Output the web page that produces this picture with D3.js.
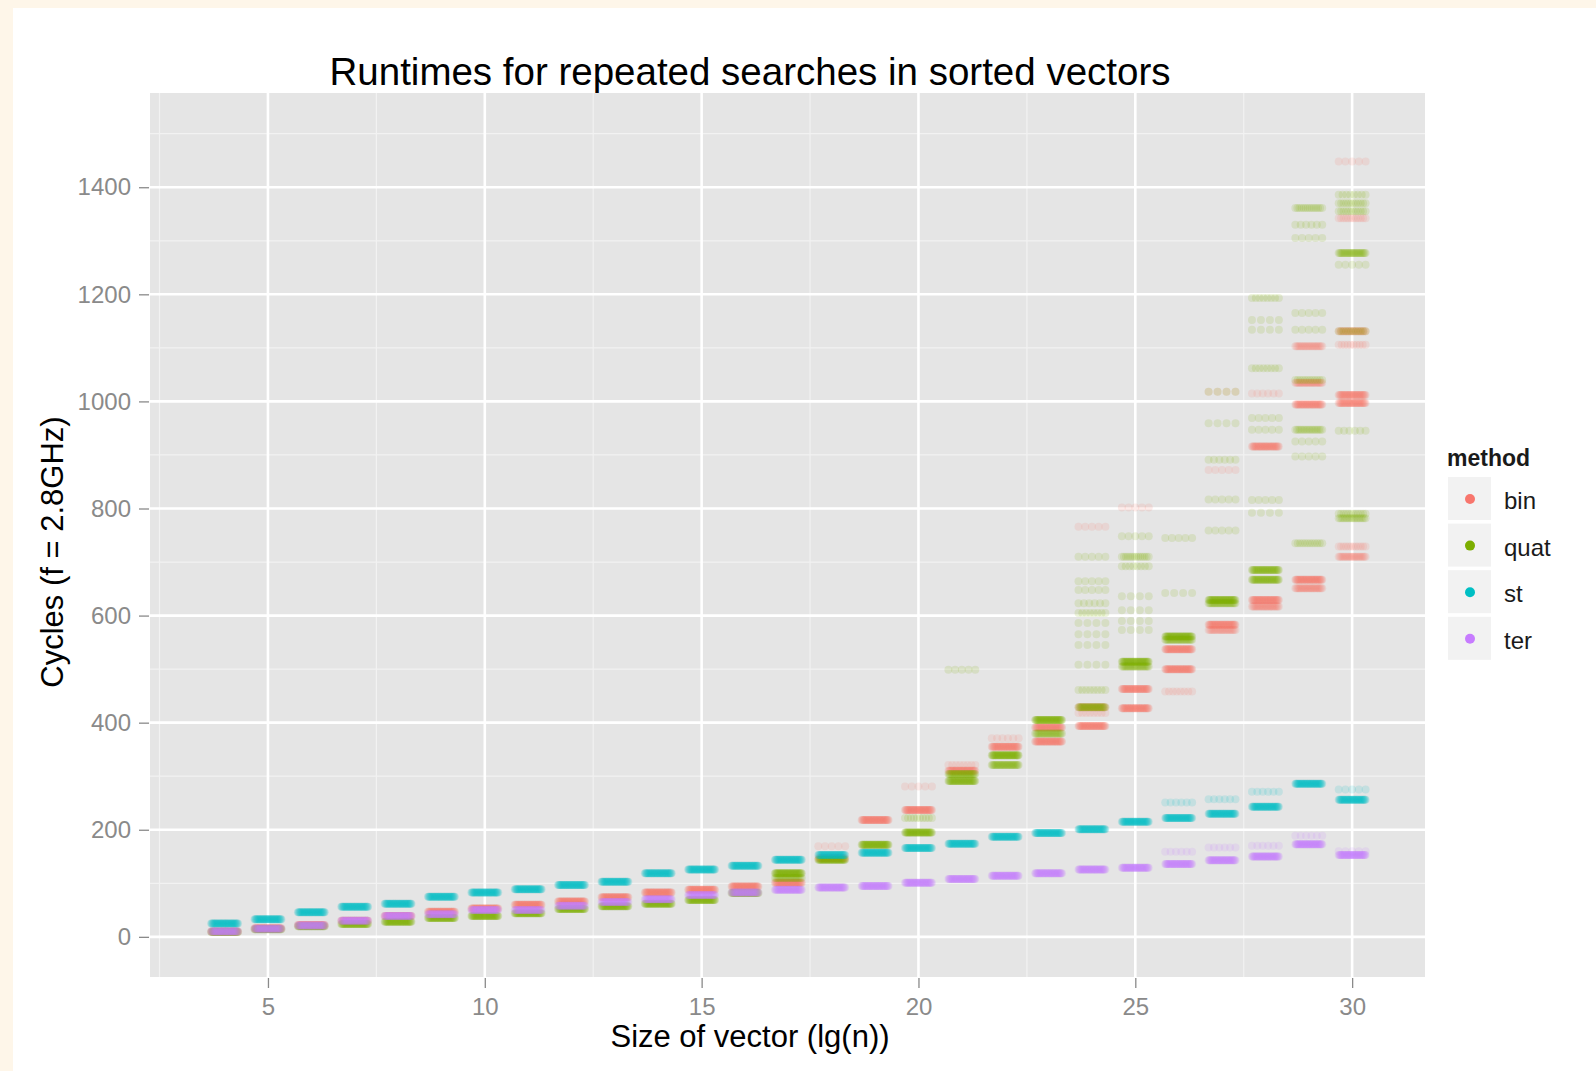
<!DOCTYPE html>
<html>
<head>
<meta charset="utf-8">
<script src="https://cdn.jsdelivr.net/npm/d3@7"></script>
<style>
  html, body { margin: 0; padding: 0; background: #fef6e9; }
  svg { display: block; }
  text { font-family: "Liberation Sans", Arial, Helvetica, sans-serif; }
</style>
</head>
<body>
<svg id="chart" width="1596" height="1071"></svg>
<script>
// ---------------- DATA ----------------
const xValues = [4,5,6,7,8,9,10,11,12,13,14,15,16,17,18,19,20,21,22,23,24,25,26,27,28,29,30];
const methods = ["bin", "quat", "st", "ter"];
const methodColors = ["#F8766D", "#7CAE00", "#00BFC4", "#C77CFF"];
const xTicks = [5, 10, 15, 20, 25, 30];
const yTicks = [0, 200, 400, 600, 800, 1000, 1200, 1400];
const title = "Runtimes for repeated searches in sorted vectors";
const xTitle = "Size of vector (lg(n))";
const yTitle = "Cycles (f = 2.8GHz)";
const legendTitle = "method";

// each entry: clusters for one x value, [cycles, number of runs]
const binRuns = [
  [[10,50]], [[16,50]], [[22,50]], [[30,50]], [[39,50]], [[47,50]], [[53,50]],
  [[60,50]], [[66,50]], [[74,50]], [[83,50]], [[88,50]], [[94,50]], [[101,50]],
  [[147,40],[169,5]], [[218,50]], [[237,50],[281,5]], [[321,8],[310,45]],
  [[371,6],[355,45]], [[391,45],[365,45]], [[394,45],[429,30],[418,8],[766,5]],
  [[463,45],[427,45],[802,5]], [[537,45],[500,45],[458,8]],
  [[583,45],[573,25],[872,5],[1018,4]],
  [[629,45],[617,30],[916,40],[1015,6]],
  [[667,45],[651,30],[1103,25],[1035,30],[994,40]],
  [[729,12],[710,25],[1131,30],[1106,10],[1012,40],[997,40],[1342,12],[1448,5]]
];
const quatRuns = [
  [[9,50]], [[14,50]], [[20,50]], [[24,50]], [[28,50]], [[35,50]], [[39,50]],
  [[44,50]], [[52,50]], [[57,50]], [[62,50]], [[69,50]], [[82,50]],
  [[119,50],[110,25]], [[144,50]], [[172,50]], [[195,50],[222,10]],
  [[304,40],[291,45],[499,5]], [[339,50],[321,35]], [[405,50],[380,30]],
  [[429,35],[461,8],[508,4],[545,4],[565,4],[586,4],[605,8],[623,6],[648,5],[664,5],[710,5]],
  [[514,45],[505,30],[573,4],[590,4],[610,4],[636,4],[692,8],[710,14],[748,5]],
  [[561,45],[555,30],[642,4],[745,5]],
  [[629,45],[623,30],[759,5],[817,5],[891,6],[959,4],[1018,4]],
  [[685,40],[667,40],[792,4],[816,5],[947,5],[969,5],[1062,8],[1134,4],[1152,4],[1193,8]],
  [[735,12],[897,5],[925,5],[947,18],[1040,12],[1134,5],[1165,5],[1305,5],[1330,6],[1361,14]],
  [[782,18],[790,12],[945,6],[1131,12],[1255,5],[1277,30],[1355,12],[1370,12],[1386,8]]
];
const stRuns = [
  [[25,50]], [[33,50]], [[46,50]], [[56,50]], [[62,50]], [[75,50]], [[83,50]],
  [[89,50]], [[97,50]], [[103,50]], [[119,50]], [[126,50]], [[133,50]], [[144,50]],
  [[153,50]], [[157,50]], [[166,50]], [[174,50]], [[187,50]], [[194,50]],
  [[201,50]], [[215,50]], [[222,50],[251,6]], [[230,50],[257,6]],
  [[243,50],[271,6]], [[286,50]], [[256,50],[275,5]]
];
const terRuns = [
  [[10,50]], [[15,50]], [[21,50]], [[30,50]], [[39,50]], [[42,50]], [[50,50]],
  [[50,50]], [[58,50]], [[65,50]], [[70,50]], [[78,50]], [[83,50]], [[88,50]],
  [[92,50]], [[95,50]], [[101,50]], [[108,50]], [[114,50]], [[119,50]],
  [[126,50]], [[129,50]], [[136,50],[159,6]], [[143,50],[167,6]],
  [[150,50],[170,6]], [[173,50],[189,6]], [[153,50],[160,5]]
];
const runsByMethod = [binRuns, quatRuns, stRuns, terRuns];

// ---------------- LAYOUT ----------------
const svg = d3.select("#chart");
const panel = { left: 150, right: 1425, top: 93, bottom: 977 };

svg.append("rect").attr("x", 13).attr("y", 8).attr("width", 1596 - 13).attr("height", 1071 - 8)
  .attr("fill", "#ffffff");

const x = d3.scaleLinear().domain([2.28, 31.68]).range([panel.left, panel.right]);
const y = d3.scaleLinear().domain([-75, 1576]).range([panel.bottom, panel.top]);

svg.append("rect").attr("x", panel.left).attr("y", panel.top)
  .attr("width", panel.right - panel.left).attr("height", panel.bottom - panel.top)
  .attr("fill", "#e5e5e5");

// minor grid
const xMinor = [2.5, 7.5, 12.5, 17.5, 22.5, 27.5];
const yMinor = [100, 300, 500, 700, 900, 1100, 1300, 1500];
const grid = svg.append("g");
grid.selectAll(".xm").data(xMinor).join("line")
  .attr("x1", d => x(d)).attr("x2", d => x(d)).attr("y1", panel.top).attr("y2", panel.bottom)
  .attr("stroke", "#f2f2f2").attr("stroke-width", 1.2);
grid.selectAll(".ym").data(yMinor).join("line")
  .attr("y1", d => y(d)).attr("y2", d => y(d)).attr("x1", panel.left).attr("x2", panel.right)
  .attr("stroke", "#f2f2f2").attr("stroke-width", 1.2);
grid.selectAll(".xM").data(xTicks).join("line")
  .attr("x1", d => x(d)).attr("x2", d => x(d)).attr("y1", panel.top).attr("y2", panel.bottom)
  .attr("stroke", "#ffffff").attr("stroke-width", 2.6);
grid.selectAll(".yM").data(yTicks).join("line")
  .attr("y1", d => y(d)).attr("y2", d => y(d)).attr("x1", panel.left).attr("x2", panel.right)
  .attr("stroke", "#ffffff").attr("stroke-width", 2.6);

// points: each run of a cluster spread across the jitter band of its x value
const pts = [];
runsByMethod.forEach((runs, m) => {
  runs.forEach((clusters, i) => {
    clusters.forEach(([v, n]) => {
      for (let k = 0; k < n; k++) {
        const off = n === 1 ? 0 : -0.31 + 0.62 * k / (n - 1);
        pts.push({ m, xv: xValues[i] + off, v });
      }
    });
  });
});
svg.append("g").selectAll("circle").data(pts).join("circle")
  .attr("cx", d => x(d.xv)).attr("cy", d => y(d.v)).attr("r", 4)
  .attr("fill", d => methodColors[d.m]).attr("fill-opacity", 0.14);

// axes
const xAxis = svg.append("g").attr("transform", `translate(0,${panel.bottom})`)
  .call(d3.axisBottom(x).tickValues(xTicks).tickSize(11).tickPadding(10).tickFormat(d3.format("d")));
const yAxis = svg.append("g").attr("transform", `translate(${panel.left},0)`)
  .call(d3.axisLeft(y).tickValues(yTicks).tickSize(11).tickPadding(8).tickFormat(d3.format("d")));
[xAxis, yAxis].forEach(a => {
  a.select(".domain").remove();
  a.selectAll(".tick line").attr("stroke", "#8a8a8a").attr("stroke-width", 1.3);
  a.selectAll(".tick text").attr("fill", "#8a8a8a").style("font-size", "24px")
    .style("font-family", '"Liberation Sans", Arial, sans-serif');
});
xAxis.selectAll(".tick line").attr("y1", 1);
yAxis.selectAll(".tick line").attr("x1", -1);

// titles
svg.append("text").attr("x", 750).attr("y", 85).attr("text-anchor", "middle")
  .style("font-size", "38.5px").attr("fill", "#000").text(title);
svg.append("text").attr("x", 750).attr("y", 1047).attr("text-anchor", "middle")
  .style("font-size", "31px").attr("fill", "#000").text(xTitle);
svg.append("text").attr("transform", "translate(63,552) rotate(-90)").attr("text-anchor", "middle")
  .style("font-size", "31px").attr("fill", "#000").text(yTitle);

// legend
const lg = svg.append("g");
lg.append("text").attr("x", 1447).attr("y", 466).style("font-size", "23px")
  .style("font-weight", "bold").attr("fill", "#1a1a1a").text(legendTitle);
const keyTop = 477, keyPitch = 46.6;
methods.forEach((name, i) => {
  const ty = keyTop + i * keyPitch;
  lg.append("rect").attr("x", 1448).attr("y", ty).attr("width", 43).attr("height", 43)
    .attr("fill", "#f2f2f2");
  lg.append("circle").attr("cx", 1470).attr("cy", ty + 22).attr("r", 5)
    .attr("fill", methodColors[i]);
  lg.append("text").attr("x", 1504).attr("y", ty + 32).style("font-size", "24px")
    .attr("fill", "#1a1a1a").text(name);
});
</script>
</body>
</html>
